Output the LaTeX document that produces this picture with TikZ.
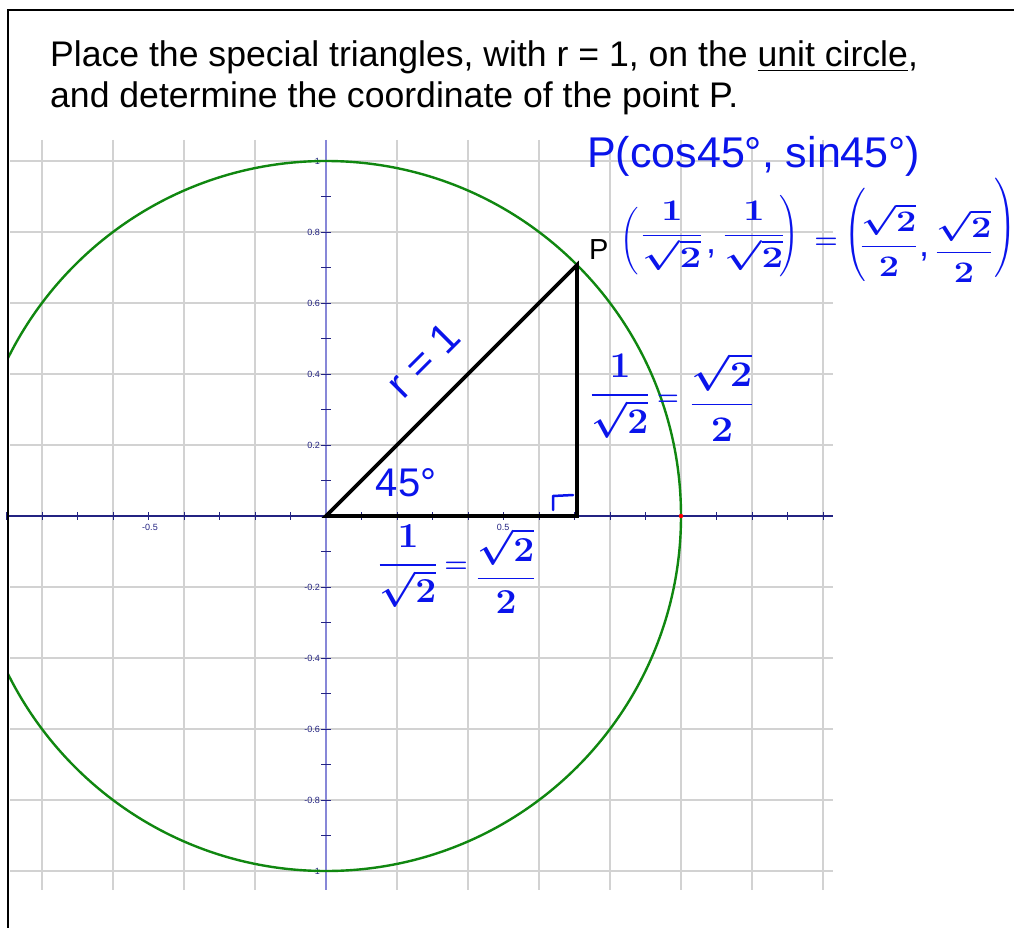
\documentclass[tikz,border=0pt]{standalone}
\usepackage{amsmath}
\usepackage{fontspec}
\setmainfont{Liberation Sans}
\definecolor{gridgray}{RGB}{210,210,210}
\definecolor{axisnavy}{RGB}{35,35,130}
\definecolor{yaxiscol}{RGB}{135,135,215}
\definecolor{circgreen}{RGB}{16,135,16}
\definecolor{ink}{RGB}{10,20,235}
\newcommand{\hwmath}[3]{\scalebox{#1}[#2]{\fontsize{24.88}{30}\selectfont\boldmath$#3$}}
\newcommand{\hwfr}[4]{\hwmath{#1}{#2}{\dfrac{#3}{#4}}}
\tikzset{
 gridline/.style={draw=gridgray, line width=1.3pt},
 xaxisline/.style={draw=axisnavy, line width=1.2pt},
 yaxisline/.style={draw=yaxiscol, line width=1.8pt},
 tickline/.style={draw=axisnavy, line width=1pt},
 ticklabel/.style={text=axisnavy, inner sep=0pt, font=\fontsize{9}{9}\selectfont},
 hw/.style={text=ink, inner sep=0pt},
 titletext/.style={anchor=base west, inner sep=0pt, font=\fontsize{35.6}{40}\selectfont},
}
\begin{document}
\begin{tikzpicture}[x=1pt,y=-1pt]
\useasboundingbox (0,0) rectangle (1014,928);
\fill[white] (0,0) rectangle (1014,928);
% grid
\foreach \k in {-4,-3,-2,-1,1,2,3,4,5,6,7} \draw[gridline] ({326+71*\k},140) -- ({326+71*\k},890);
\foreach \k in {-5,-4,-3,-2,-1,1,2,3,4,5} \draw[gridline] (10,{516+71*\k}) -- (833,{516+71*\k});
% axes
\coordinate (O) at (326,516);
\coordinate (Q) at (577,516);
\coordinate (Pt) at (577,265);
\coordinate (E) at (681,516);
\draw[xaxisline] (8,516) -- (833,516);
\foreach \k in {-9,...,14} \draw[tickline] ({326+35.5*\k},512) -- ({326+35.5*\k},520);
\draw[yaxisline] (326,140) -- (326,890);
\foreach \k in {-10,...,10} \draw[tickline] (321,{516+35.5*\k}) -- (331,{516+35.5*\k});
\foreach \v/\k/\n in {1/-10/a, 0.8/-8/b, 0.6/-6/c, 0.4/-4/d, 0.2/-2/e, -0.2/2/f, -0.4/4/g, -0.6/6/h, -0.8/8/i, -1/10/j}
  \node[ticklabel, anchor=east] (yl\n) at (320,{516+35.5*\k}) {\v};
\node[ticklabel] (xlm) at (150,527) {-0.5};
\node[ticklabel] (xlp) at (503,527) {0.5};
% circle
\begin{scope}
\clip (8,10) rectangle (1014,928);
\draw[circgreen, line width=2.4pt] (O) circle[radius=355pt];
\end{scope}
\fill[red] (E) circle[radius=2.2pt];
% triangle
\draw[line width=3.6pt, line join=miter] (O) -- (Q) -- (Pt) -- cycle;
% right angle mark
\draw[ink, line width=2.5pt, line cap=round, line join=round] (553,510) -- (553,496) -- (573,495);
% frame
\draw[line width=2pt] (8,928) -- (8,10) -- (1014,10);
% title
\node[titletext] (t1) at (50,67) {Place the special triangles, with r = 1, on the \underline{unit circle},};
\node[titletext] (t2) at (50,108) {and determine the coordinate of the point P.};
% P label
\node[anchor=base west, inner sep=0pt, font=\fontsize{29}{29}\selectfont] (plab) at (589,259) {P};
% handwritten
\node[hw, anchor=base west, font=\fontsize{43}{43}\selectfont] (cs) at (587,168) {P(cos45°, sin45°)};
\node[hw] (pa1) at (630,241) {\hwmath{1.0}{1.13}{\biggl(}};
\node[hw] (fa) at (672,236) {\hwfr{1.55}{1.2}{1}{\sqrt{2}}};
\node[hw, font=\fontsize{36}{36}\selectfont] (ca) at (711,254) {,};
\node[hw] (fb) at (754,236) {\hwfr{1.55}{1.2}{1}{\sqrt{2}}};
\node[hw] (pa2) at (789,236) {\hwmath{1.0}{1.09}{\Biggr)}};
\node[hw] (eqa) at (826,243) {\hwmath{1.08}{1.08}{=}};
\node[hw] (pa3) at (855,235) {\hwmath{1.1}{1.25}{\Biggl(}};
\node[hw] (fc) at (889,240) {\hwfr{1.45}{1.2}{\sqrt{2}}{2}};
\node[hw, font=\fontsize{36}{36}\selectfont] (cb) at (924,257) {,};
\node[hw] (fd) at (964,246) {\hwfr{1.45}{1.2}{\sqrt{2}}{2}};
\node[hw] (pa4) at (1005,228) {\hwmath{1.1}{1.33}{\Biggr)}};
% r = 1 and angle
\node[hw, rotate=45, font=\fontsize{42}{42}\selectfont] (rlab) at (423,360) {r = 1};
\node[hw, font=\fontsize{40}{40}\selectfont] (ang) at (406,483) {45°};
% vertical leg
\node[hw] (fv1) at (620,396) {\hwfr{1.5}{1.45}{1}{\sqrt{2}}};
\node[hw] (eqv) at (668,400) {\hwmath{1.0}{1.08}{=}};
\node[hw] (fv2) at (722,397) {\hwfr{1.6}{1.45}{\sqrt{2}}{2}};
% horizontal leg
\node[hw] (fh1) at (408,566) {\hwfr{1.5}{1.41}{1}{\sqrt{2}}};
\node[hw] (eqh) at (456,567) {\hwmath{1.08}{1.08}{=}};
\node[hw] (fh2) at (506,571) {\hwfr{1.5}{1.41}{\sqrt{2}}{2}};
\end{tikzpicture}
\end{document}
